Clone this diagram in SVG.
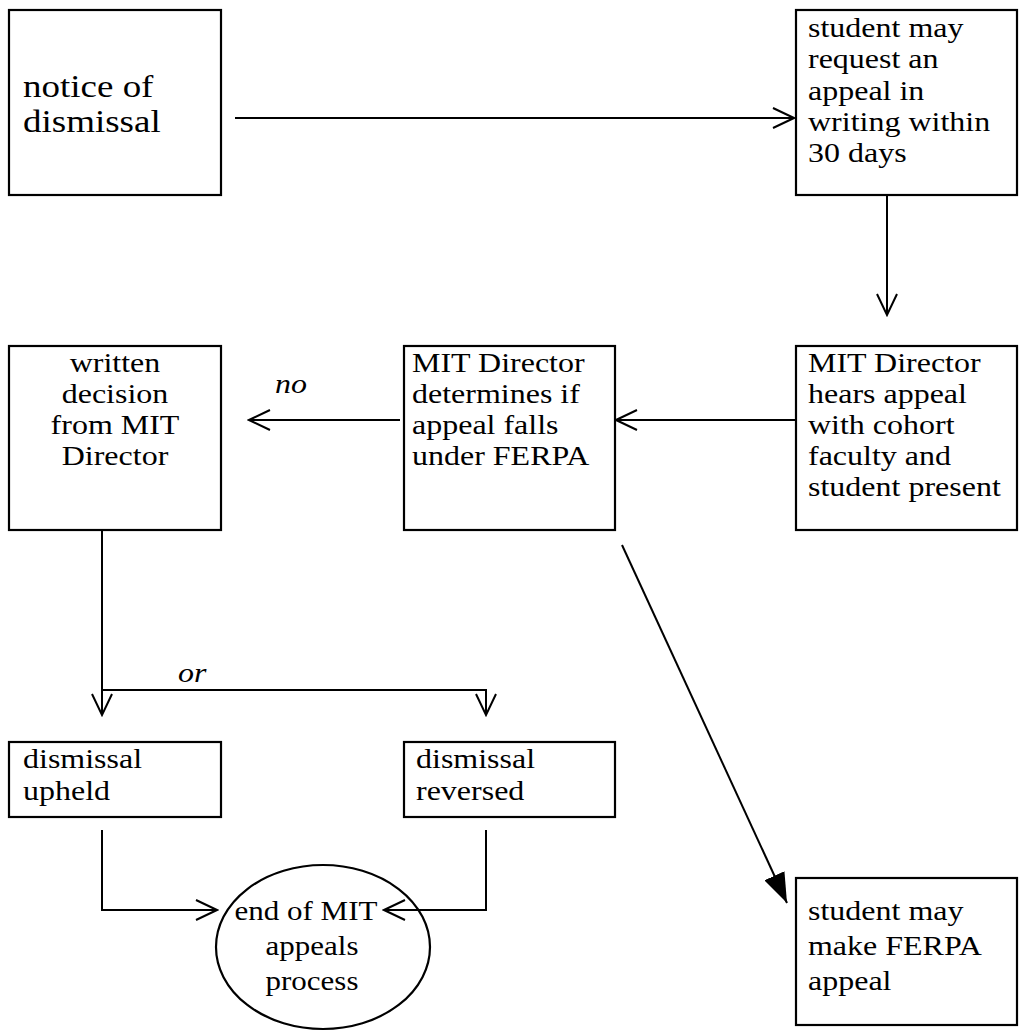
<svg xmlns="http://www.w3.org/2000/svg" width="1025" height="1036" viewBox="0 0 1025 1036">
<style>
.box{fill:none;stroke:#000;stroke-width:2.2}
.t{font-family:"Liberation Serif","Times New Roman",serif;font-size:32px;fill:#000}
.big{font-size:37px}
.mid{font-size:31px}
.c{text-anchor:middle}
.i{font-style:italic}
.ln{fill:none;stroke:#000;stroke-width:2}
</style>
<defs>
<marker id="open" viewBox="0 0 24 22" refX="22" refY="11" markerWidth="24" markerHeight="22" markerUnits="userSpaceOnUse" orient="auto">
<path d="M1,1 L22,11 L1,21" fill="none" stroke="#000" stroke-width="2"/>
</marker>
<marker id="solid" viewBox="0 0 30 22" refX="30" refY="11" markerWidth="30" markerHeight="22" markerUnits="userSpaceOnUse" orient="auto">
<path d="M0,0 L30,11 L0,22 z" fill="#000"/>
</marker>
</defs>
<rect width="1025" height="1036" fill="#fff"/>
<g id="connectors">
<line class="ln" x1="235" y1="118" x2="794" y2="118" marker-end="url(#open)"/>
<line class="ln" x1="887" y1="196" x2="887" y2="315" marker-end="url(#open)"/>
<line class="ln" x1="795" y1="420" x2="616" y2="420" marker-end="url(#open)"/>
<line class="ln" x1="400" y1="420" x2="249" y2="420" marker-end="url(#open)"/>
<polyline class="ln" points="102,531 102,690 486,690"/>
<line class="ln" x1="102" y1="690" x2="102" y2="715" marker-end="url(#open)"/>
<line class="ln" x1="486" y1="689" x2="486" y2="715" marker-end="url(#open)"/>
<polyline class="ln" points="102,830 102,910 217,910" marker-end="url(#open)"/>
<polyline class="ln" points="486,830 486,910 384,910" marker-end="url(#open)"/>
<line class="ln" x1="622" y1="545" x2="787" y2="903" marker-end="url(#solid)"/>
<g transform="scale(1 0.85)">
<text class="t i" x="275" y="462.4">no</text>
<text class="t i" x="178" y="802.4">or</text>
</g>
</g>
<g id="notice">
<rect class="box" x="9" y="10" width="212" height="185"/>
<g transform="scale(1 0.85)">
<text class="t big" x="23" y="114.1">notice of</text>
<text class="t big" x="23" y="155.3">dismissal</text>
</g>
</g>
<g id="request">
<rect class="box" x="796" y="10" width="221" height="185"/>
<g transform="scale(1 0.85)">
<text class="t" x="808" y="43.5">student may</text>
<text class="t" x="808" y="80">request an</text>
<text class="t" x="808" y="117.6">appeal in</text>
<text class="t" x="808" y="154.1">writing within</text>
<text class="t" x="808" y="190.6">30 days</text>
</g>
</g>
<g id="hears">
<rect class="box" x="796" y="346" width="221" height="184"/>
<g transform="scale(1 0.85)">
<text class="t" x="808" y="437.6">MIT Director</text>
<text class="t" x="808" y="474.1">hears appeal</text>
<text class="t" x="808" y="510.6">with cohort</text>
<text class="t" x="808" y="547.1">faculty and</text>
<text class="t" x="808" y="583.5">student present</text>
</g>
</g>
<g id="determines">
<rect class="box" x="404" y="346" width="211" height="184"/>
<g transform="scale(1 0.85)">
<text class="t" x="412" y="437.6">MIT Director</text>
<text class="t" x="412" y="474.1">determines if</text>
<text class="t" x="412" y="510.6">appeal falls</text>
<text class="t" x="412" y="547.1">under FERPA</text>
</g>
</g>
<g id="decision">
<rect class="box" x="9" y="346" width="212" height="184"/>
<g transform="scale(1 0.85)">
<text class="t c" x="115" y="437.6">written</text>
<text class="t c" x="115" y="474.1">decision</text>
<text class="t c" x="115" y="510.6">from MIT</text>
<text class="t c" x="115" y="547.1">Director</text>
</g>
</g>
<g id="upheld">
<rect class="box" x="9" y="742" width="212" height="75"/>
<g transform="scale(1 0.85)">
<text class="t" x="23" y="903.5">dismissal</text>
<text class="t" x="23" y="941.2">upheld</text>
</g>
</g>
<g id="reversed">
<rect class="box" x="404" y="742" width="211" height="75"/>
<g transform="scale(1 0.85)">
<text class="t" x="416" y="903.5">dismissal</text>
<text class="t" x="416" y="941.2">reversed</text>
</g>
</g>
<g id="end">
<ellipse class="box" cx="323" cy="947" rx="107" ry="82"/>
<g transform="scale(1 0.85)">
<text class="t mid c" x="306" y="1082.4">end of MIT</text>
<text class="t mid c" x="312" y="1123.5">appeals</text>
<text class="t mid c" x="312" y="1164.7">process</text>
</g>
</g>
<g id="ferpa">
<rect class="box" x="796" y="878" width="221" height="147"/>
<g transform="scale(1 0.85)">
<text class="t" x="808" y="1082.4">student may</text>
<text class="t" x="808" y="1123.5">make FERPA</text>
<text class="t" x="808" y="1164.7">appeal</text>
</g>
</g>
</svg>
